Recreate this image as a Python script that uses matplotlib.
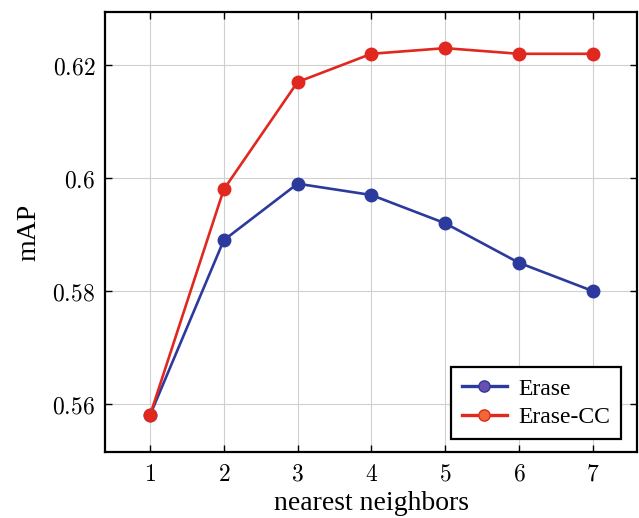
import matplotlib
matplotlib.use("Agg")
import matplotlib.pyplot as plt
from matplotlib.ticker import FixedLocator, FixedFormatter

k = [1, 2, 3, 4, 5, 6, 7]
erase = [0.558, 0.589, 0.599, 0.597, 0.592, 0.585, 0.580]
erase_cc = [0.558, 0.598, 0.617, 0.622, 0.623, 0.622, 0.622]
yticks = [0.56, 0.58, 0.60, 0.62]
ytick_labels = ["0.56", "0.58", "0.6", "0.62"]

plt.rcParams['mathtext.fontset'] = 'cm'
blue = "#2b3a9c"
red = "#e0281f"

fig = plt.figure(figsize=(6.39, 5.18), dpi=100)
ax = fig.add_axes([105/639, 66/518, 532/639, 440/518])

ax.plot(k, erase, color=blue, lw=1.9, marker='o', ms=9, mfc=blue, mec=blue, label="Erase", zorder=3)
ax.plot(k, erase_cc, color=red, lw=1.9, marker='o', ms=9, mfc=red, mec=red, label="Erase-CC", zorder=3)

ax.set_xlim(0.39, 7.6)
ax.set_ylim(0.5515, 0.6294)
ax.xaxis.set_major_locator(FixedLocator(k))
ax.set_xticklabels([f"${v}$" for v in k])
ax.yaxis.set_major_locator(FixedLocator(yticks))
ax.yaxis.set_major_formatter(FixedFormatter([f"${s}$" for s in ytick_labels]))
ax.grid(True, color="#d0d0d0", lw=0.8, zorder=0)
ax.tick_params(direction='in', length=5, width=1.0, top=True, right=True, labelsize=17, pad=7)
for s in ax.spines.values():
    s.set_linewidth(1.6)

ax.set_xlabel("nearest neighbors", fontsize=20, family="Liberation Serif", labelpad=4)
ax.set_ylabel("mAP", fontsize=20, family="Liberation Serif", labelpad=8)

leg = ax.legend(loc="lower right", prop={"family": "Liberation Serif", "size": 17},
                fancybox=False, edgecolor="black", framealpha=1,
                bbox_to_anchor=(0.97, 0.03), borderaxespad=0.0,
                handlelength=1.9, markerscale=0.9, borderpad=0.45, labelspacing=0.3,
                handletextpad=0.5)
leg.get_frame().set_linewidth(1.6)
for h in leg.legend_handles:
    h.set_linewidth(2.4)
leg.legend_handles[0].set_markerfacecolor("#6a4fb0")
leg.legend_handles[1].set_markerfacecolor("#ee6a35")

fig.savefig("out.png", dpi=100)
